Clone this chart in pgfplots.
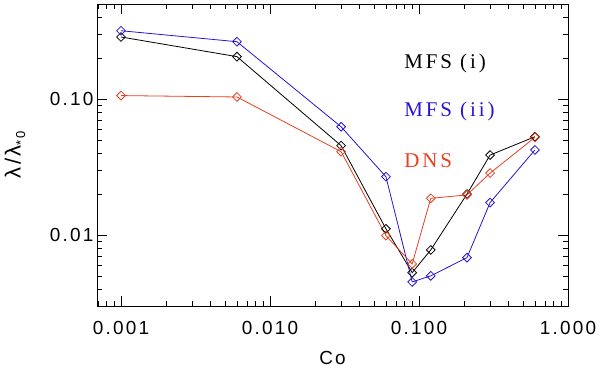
\documentclass[border=0pt]{standalone}
\usepackage{pgfplots}
\pgfplotsset{compat=1.18}
\usepackage{fontspec}
\setmainfont{Liberation Sans}
\newfontfamily\tickfont[LetterSpace=12]{Liberation Sans}
\newfontfamily\labfont[LetterSpace=14]{Liberation Serif}
\definecolor{myblue}{RGB}{40,20,210}
\definecolor{myred}{RGB}{232,64,32}
\begin{document}
\begin{tikzpicture}
\begin{axis}[
  scale only axis, width=471bp, height=302bp,
  at={(0,0)}, anchor=south west,
  xmode=log, ymode=log,
  xmin=0.00069, xmax=1.0, ymin=0.003, ymax=0.5,
  xtick={0.001,0.01,0.1,1}, xticklabels={0.001,0.010,0.100,1.000},
  ytick={0.01,0.1}, yticklabels={0.01,0.10},
  minor xtick={0.0007,0.0008,0.0009,0.002,0.003,0.004,0.005,0.006,0.007,0.008,0.009,0.02,0.03,0.04,0.05,0.06,0.07,0.08,0.09,0.2,0.3,0.4,0.5,0.6,0.7,0.8,0.9},
  minor ytick={0.003,0.004,0.005,0.006,0.007,0.008,0.009,0.02,0.03,0.04,0.05,0.06,0.07,0.08,0.09,0.2,0.3,0.4,0.5},
  tick align=inside,
  major tick length=10bp, minor tick length=5bp,
  every tick/.style={black, line width=0.6bp},
  axis line style={line width=0.8bp},
  ticklabel style={font=\fontsize{19}{22}\selectfont\tickfont},
  xticklabel style={yshift=-12bp},
  /pgf/number format/assume math mode=true,
  xlabel={Co},
  ylabel={\fontsize{22}{24}\selectfont λ/λ\raisebox{-0.4ex}{\fontsize{13}{13}\selectfont *0}},
  every axis x label/.style={at={(axis description cs:0.5,-0.172)},anchor=center},
  every axis y label/.style={at={(axis description cs:-0.174,0.5)},rotate=90,anchor=center},
  label style={font=\fontsize{19}{22}\selectfont\tickfont},
  every axis plot/.append style={line width=0.8bp, mark=square, mark size=3.1bp, every mark/.append style={rotate=45, solid, fill=none}},
]
\addplot[black] coordinates {
 (0.001,0.286) (0.006,0.205) (0.030,0.0454) (0.060,0.0111) (0.090,0.00528)
 (0.120,0.00776) (0.210,0.020) (0.300,0.0387) (0.600,0.0528)};
\addplot[myblue] coordinates {
 (0.001,0.318) (0.006,0.264) (0.030,0.0625) (0.060,0.0268) (0.090,0.00451)
 (0.120,0.0050) (0.210,0.00681) (0.300,0.0173) (0.600,0.0422)};
\addplot[myred] coordinates {
 (0.001,0.106) (0.006,0.1035) (0.030,0.041) (0.060,0.00989) (0.090,0.00612)
 (0.120,0.0186) (0.210,0.0197) (0.300,0.0285) (0.600,0.0522)};
\node[anchor=base west, inner sep=0pt, text=black, font=\fontsize{21}{24}\selectfont\labfont] at (rel axis cs:0.652,0.788) {MFS (i)};
\node[anchor=base west, inner sep=0pt, text=myblue, font=\fontsize{21}{24}\selectfont\labfont] at (rel axis cs:0.652,0.626) {MFS (ii)};
\node[anchor=base west, inner sep=0pt, text=myred, font=\fontsize{21}{24}\selectfont\labfont] at (rel axis cs:0.652,0.457) {DNS};
\end{axis}
\pgfresetboundingbox
\path[use as bounding box] (-97bp,-62bp) rectangle (503bp,306bp);
\end{tikzpicture}
\end{document}
